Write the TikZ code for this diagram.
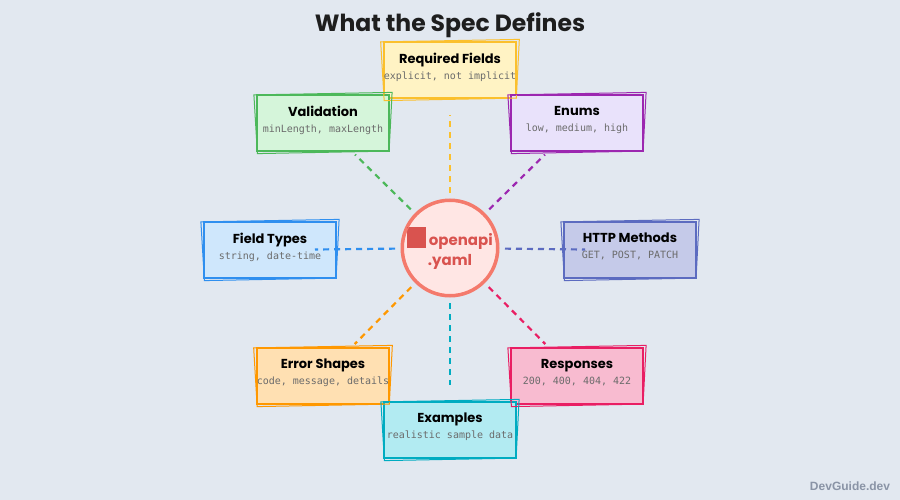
\documentclass[tikz,border=0pt]{standalone}
\usepackage{fontspec}
\setmainfont{Poppins}
\newfontfamily\monofont{DejaVu Sans Mono}
\newfontfamily\markfont{Liberation Sans}
\usetikzlibrary{calc}
\definecolor{bg}{HTML}{E2E8F0}
\definecolor{titlec}{HTML}{1E1E1E}
\definecolor{subgray}{HTML}{6B6B6B}
\definecolor{yelS}{HTML}{FBC02D}\definecolor{yelF}{HTML}{FFF3C4}
\definecolor{grnS}{HTML}{4CB85A}\definecolor{grnF}{HTML}{D5F5DA}
\definecolor{purS}{HTML}{9C27B0}\definecolor{purF}{HTML}{E9E2FB}
\definecolor{bluS}{HTML}{2F8FEF}\definecolor{bluF}{HTML}{CFE7FC}
\definecolor{indS}{HTML}{5C6BC0}\definecolor{indF}{HTML}{C5CAE9}
\definecolor{orgS}{HTML}{FF9800}\definecolor{orgF}{HTML}{FFE0B2}
\definecolor{pnkS}{HTML}{E91E63}\definecolor{pnkF}{HTML}{F8BBD0}
\definecolor{cyaS}{HTML}{00ACC1}\definecolor{cyaF}{HTML}{B2EBF2}
\definecolor{hubS}{HTML}{F47A6C}\definecolor{hubF}{HTML}{FFE6E4}
\definecolor{hubT}{HTML}{D9534F}
\definecolor{markc}{HTML}{8A94A6}
\tikzset{
  card/.style={rectangle, minimum width=132pt, minimum height=56pt, line width=2.2pt, align=center, inner sep=0pt},
  conn/.style={line width=2.2pt, dash pattern=on 6pt off 5pt, shorten <=55pt, shorten >=45pt},
  sketch/.style={line width=1pt},
}
\newcommand{\cardtext}[2]{{\bfseries\fontsize{13}{15}\selectfont #1}\\[4pt]{\monofont\fontsize{10}{12}\selectfont\color{subgray}#2\rule[-8pt]{0pt}{8pt}}}
\newcommand{\sketchit}[2]{%
  \draw[sketch,#2] ($(#1.north west)+(-2,1)$) -- ($(#1.north east)+(2,-1.5)$) -- ($(#1.south east)+(-1,-1)$) -- ($(#1.south west)+(1.5,1.5)$) -- cycle;}
\begin{document}
\begin{tikzpicture}[x=1pt,y=-1pt]
\fill[bg] (0,0) rectangle (900,500);
\useasboundingbox (0,0) rectangle (900,500);
\node[font=\bfseries\fontsize{23.5}{28}\selectfont, text=titlec] (title) at (450,25) {What the Spec Defines};
% hub
\node[circle, minimum size=96pt, fill=hubF, draw=hubS, line width=3pt, inner sep=0pt, align=center, text=hubT, font=\bfseries\fontsize{15}{20}\selectfont] (hub) at (450,248) {\textcolor{hubT}{\rule[-3pt]{19pt}{21pt}}\,openapi\\.yaml};
% cards
\node[card, fill=yelF, draw=yelS] (req) at (450,70) {\cardtext{Required Fields}{explicit, not implicit}};
\node[card, fill=grnF, draw=grnS] (val) at (323,123) {\cardtext{Validation}{minLength, maxLength}};
\node[card, fill=purF, draw=purS] (enu) at (577,123) {\cardtext{Enums}{low, medium, high}};
\node[card, fill=bluF, draw=bluS] (fty) at (270,250) {\cardtext{Field Types}{string, date-time}};
\node[card, fill=indF, draw=indS] (htm) at (630,250) {\cardtext{HTTP Methods}{GET, POST, PATCH}};
\node[card, fill=orgF, draw=orgS] (err) at (323,376) {\cardtext{Error Shapes}{code, message, details}};
\node[card, fill=pnkF, draw=pnkS] (res) at (577,376) {\cardtext{Responses}{200, 400, 404, 422}};
\node[card, fill=cyaF, draw=cyaS] (exa) at (450,430) {\cardtext{Examples}{realistic sample data}};
\sketchit{req}{yelS}
\sketchit{val}{grnS}
\sketchit{enu}{purS}
\sketchit{fty}{bluS}
\sketchit{htm}{indS}
\sketchit{err}{orgS}
\sketchit{res}{pnkS}
\sketchit{exa}{cyaS}
\draw[sketch, hubS] (hub.center) circle (46.5pt);
% connectors
\draw[conn, yelS] (hub.center) -- (req.center);
\draw[conn, grnS] (hub.center) -- (val.center);
\draw[conn, purS] (hub.center) -- (enu.center);
\draw[conn, bluS] (hub.center) -- (fty.center);
\draw[conn, indS] (hub.center) -- (htm.center);
\draw[conn, orgS] (hub.center) -- (err.center);
\draw[conn, pnkS] (hub.center) -- (res.center);
\draw[conn, cyaS] (hub.center) -- (exa.center);
\node[font=\markfont\bfseries\fontsize{12}{14}\selectfont, text=markc] (mark) at (850,486) {DevGuide.dev};
\end{tikzpicture}
\end{document}
